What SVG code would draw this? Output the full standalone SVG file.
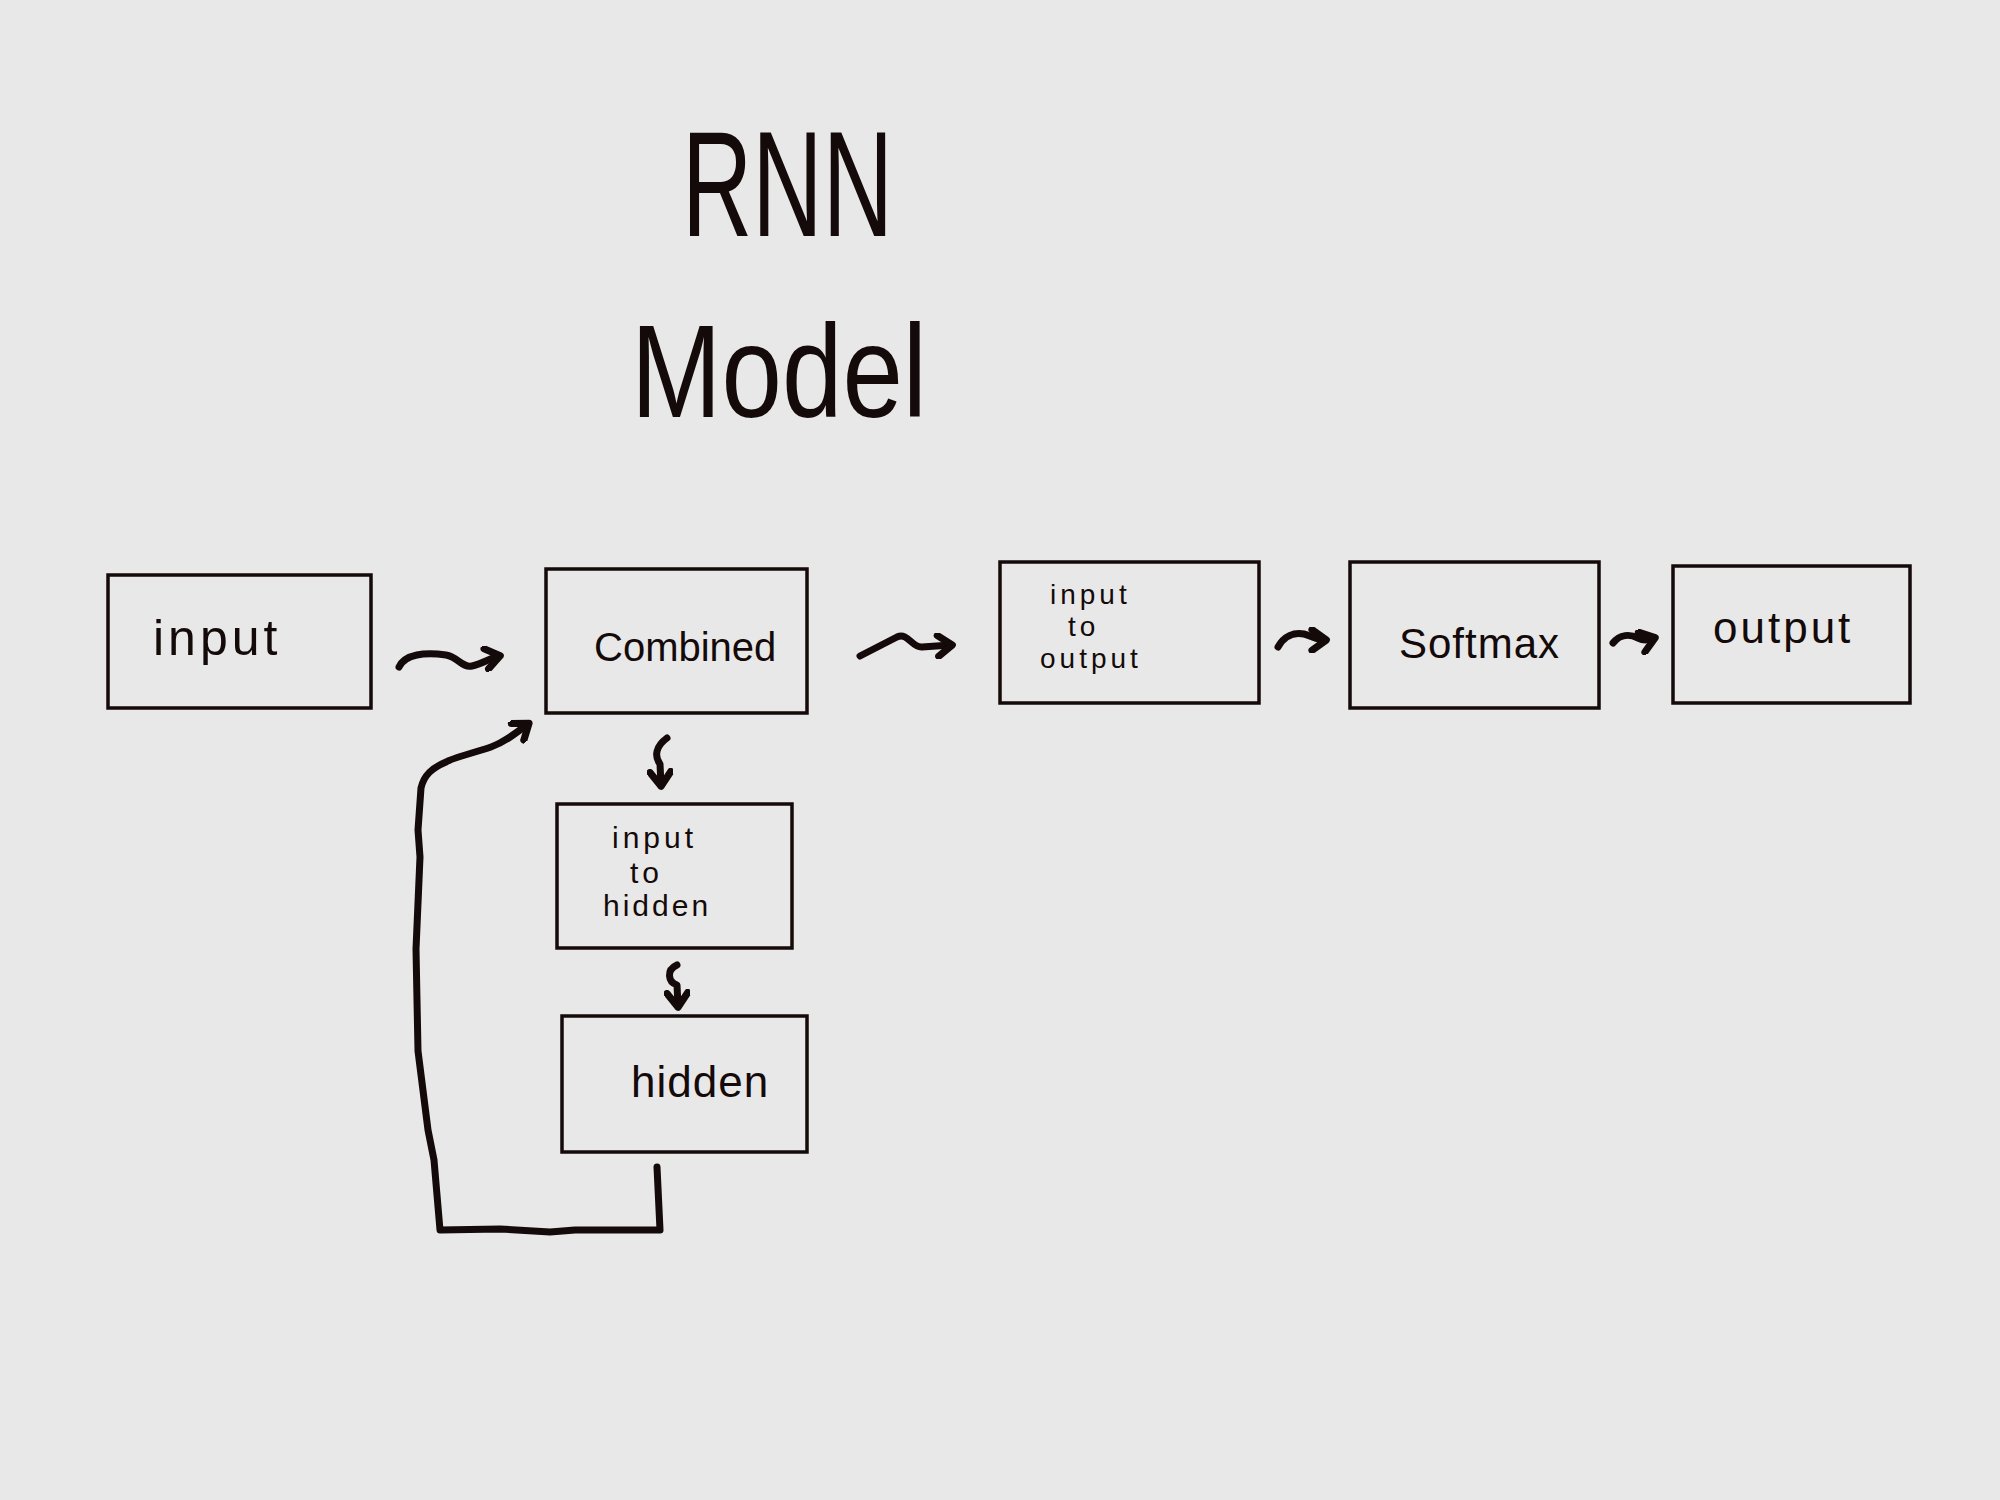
<svg xmlns="http://www.w3.org/2000/svg" width="2000" height="1500" viewBox="0 0 2000 1500">
<style>
.bg{fill:#e8e8e8}
.box{fill:none;stroke:#140a0a;stroke-width:3.5}
.lbl{font-family:"Liberation Sans","DejaVu Sans",sans-serif;fill:#140a0a}
.title{font-family:"Liberation Sans Narrow","Liberation Sans","DejaVu Sans",sans-serif;fill:#140a0a}
.con{fill:none;stroke:#140a0a;stroke-width:7;stroke-linecap:round;stroke-linejoin:round}
</style>
<defs>
<marker id="ah" viewBox="0 0 20 20" refX="13" refY="10" markerWidth="26" markerHeight="26" markerUnits="userSpaceOnUse" orient="auto">
<path d="M3,2 L14,10 L3,18" fill="none" stroke="#140a0a" stroke-width="5.5" stroke-linecap="round" stroke-linejoin="round"/>
</marker>
</defs>
<rect class="bg" x="0" y="0" width="2000" height="1500"/>
<g id="title">
<text class="title" x="682" y="236" font-size="150" textLength="211" lengthAdjust="spacingAndGlyphs">RNN</text>
<text class="title" x="631" y="417" font-size="132" textLength="296" lengthAdjust="spacingAndGlyphs">Model</text>
</g>
<g id="connectors">
<path class="con" marker-end="url(#ah)" d="M399,667 C405,654 425,652 446,655 C458,657 462,668 472,666 C482,664 490,658 499,656"/>
<path class="con" marker-end="url(#ah)" d="M860,656 L897,637 C908,632 912,648 922,647 L951,645"/>
<path class="con" marker-end="url(#ah)" d="M1278,647 C1284,636 1294,632 1304,634 C1312,636 1316,640 1325,640"/>
<path class="con" marker-end="url(#ah)" d="M1613,643 C1620,634 1630,634 1638,638 C1644,641 1648,640 1654,638"/>
<path class="con" marker-end="url(#ah)" d="M667,738 C656,746 654,756 660,764 L661,785"/>
<path class="con" marker-end="url(#ah)" d="M677,965 C666,970 668,982 677,985 L678,1006"/>
<path class="con" marker-end="url(#ah)" d="M657,1167 L660,1230 L575,1230 L550,1232 L500,1229 L440,1230 L434,1160 L428,1130 L418,1051 L416,949 L420,857 L418,830 L421,788 C424,775 432,768 446,762 C452,758 470,754 491,747 C505,742 516,733 528,724"/>
</g>
<g id="node-input">
<rect class="box" x="108" y="575" width="263" height="133"/>
<text class="lbl" x="153" y="655" font-size="50" letter-spacing="4">input</text>
</g>
<g id="node-combined">
<rect class="box" x="546" y="569" width="261" height="144"/>
<text class="lbl" x="594" y="661" font-size="40">Combined</text>
</g>
<g id="node-i2o">
<rect class="box" x="1000" y="562" width="259" height="141"/>
<text class="lbl" x="1050" y="604" font-size="28" letter-spacing="4">input</text>
<text class="lbl" x="1068" y="636" font-size="28" letter-spacing="4">to</text>
<text class="lbl" x="1040" y="668" font-size="28" letter-spacing="4">output</text>
</g>
<g id="node-softmax">
<rect class="box" x="1350" y="562" width="249" height="146"/>
<text class="lbl" x="1399" y="658" font-size="42" letter-spacing="1">Softmax</text>
</g>
<g id="node-output">
<rect class="box" x="1673" y="566" width="237" height="137"/>
<text class="lbl" x="1713" y="643" font-size="44" letter-spacing="3">output</text>
</g>
<g id="node-i2h">
<rect class="box" x="557" y="804" width="235" height="144"/>
<text class="lbl" x="612" y="848" font-size="30" letter-spacing="4">input</text>
<text class="lbl" x="630" y="883" font-size="30" letter-spacing="4">to</text>
<text class="lbl" x="603" y="916" font-size="30" letter-spacing="3">hidden</text>
</g>
<g id="node-hidden">
<rect class="box" x="562" y="1016" width="245" height="136"/>
<text class="lbl" x="631" y="1097" font-size="44" letter-spacing="1">hidden</text>
</g>
</svg>
